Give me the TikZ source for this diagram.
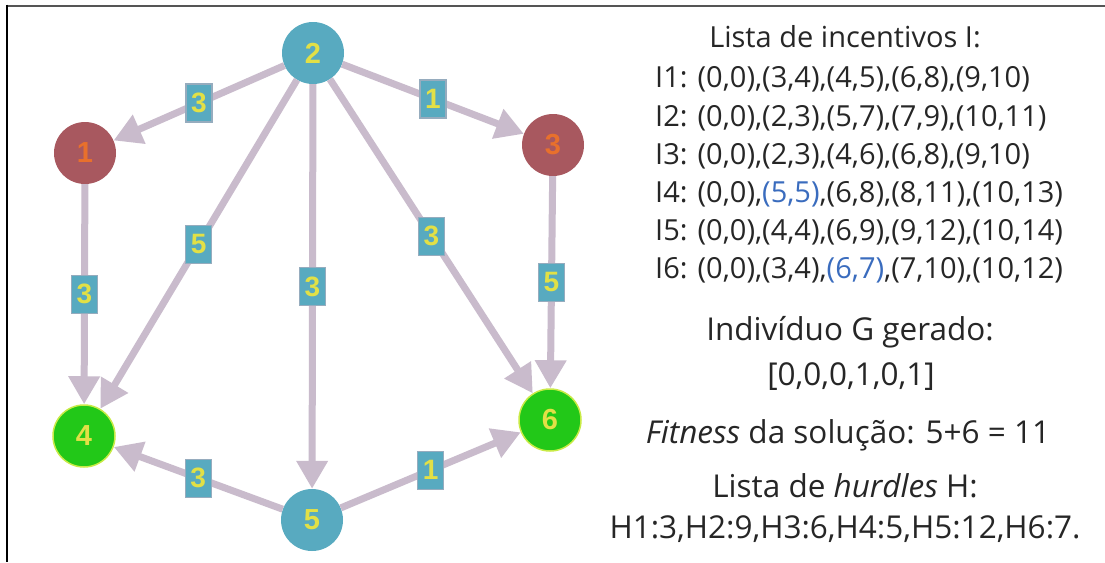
\documentclass[tikz,border=0pt]{standalone}
\usepackage{fontspec}
\setmainfont{Open Sans}
\newfontfamily\labelfont{Liberation Sans}
\usetikzlibrary{arrows.meta}

\definecolor{edgecol}{RGB}{201,187,204}
\definecolor{tealnode}{RGB}{88,170,192}
\definecolor{rednode}{RGB}{168,88,95}
\definecolor{greennode}{RGB}{34,200,24}
\definecolor{greenrim}{RGB}{200,235,70}
\definecolor{yellowtxt}{RGB}{226,224,70}
\definecolor{orangetxt}{RGB}{232,112,44}
\definecolor{labrim}{RGB}{150,172,190}
\definecolor{bluetxt}{RGB}{58,108,190}
\definecolor{framegray}{RGB}{85,85,85}

\tikzset{
  vtx/.style={circle, minimum size=62pt, inner sep=0pt,
    font=\labelfont\bfseries\fontsize{29}{29}\selectfont, text=yellowtxt},
  tealvtx/.style={vtx, fill=tealnode},
  redvtx/.style={vtx, fill=rednode, text=orangetxt},
  greenvtx/.style={vtx, fill=greennode, draw=greenrim, line width=1.5pt},
  edge/.style={draw=edgecol, line width=7pt,
    -{Triangle[length=28pt,width=30pt]}},
  wlab/.style={rectangle, fill=tealnode, draw=labrim, line width=1.2pt,
    minimum width=26pt, minimum height=38pt, inner sep=0pt,
    font=\labelfont\bfseries\fontsize{28}{28}\selectfont, text=yellowtxt},
  txt/.style={inner sep=0pt, font=\fontsize{29}{29}\selectfont, text=black!85},
  bigtxt/.style={inner sep=0pt, font=\fontsize{31.5}{31.5}\selectfont, text=black!85}
}

\begin{document}
\begin{tikzpicture}[x=1pt, y=-1pt]
\useasboundingbox (0,0) rectangle (1105,562);
\fill[white] (0,0) rectangle (1105,562);

% frame lines
\draw[framegray, line width=2pt] (6,5.5) -- (1105,5.5);
\draw[black, line width=2pt] (6.5,4.5) -- (6.5,562);

% vertices
\node[tealvtx]  (n2) at (313,53)  {2};
\node[redvtx]   (n1) at (85,153)  {1};
\node[redvtx]   (n3) at (553,145) {3};
\node[greenvtx] (n4) at (84,436)  {4};
\node[greenvtx] (n6) at (550,420) {6};
\node[tealvtx]  (n5) at (312,520) {5};

% weighted arcs
\draw[edge] (n2) -- node[wlab] {3} (n1);
\draw[edge] (n2) -- node[wlab] {1} (n3);
\draw[edge] (n2) -- node[wlab] {5} (n4);
\draw[edge] (n2) -- node[wlab] {3} (n5);
\draw[edge] (n2) -- node[wlab] {3} (n6);
\draw[edge] (n1) -- node[wlab] {3} (n4);
\draw[edge] (n3) -- node[wlab] {5} (n6);
\draw[edge] (n5) -- node[wlab] {3} (n4);
\draw[edge] (n5) -- node[wlab] {1} (n6);

% incentive list
\node[txt, anchor=base] (title) at (845,47) {Lista de incentivos I:};
\node[txt, anchor=base west] (i1) at (655,87)  {I1: (0,0),(3,4),(4,5),(6,8),(9,10)};
\node[txt, anchor=base west] (i2) at (655,126) {I2: (0,0),(2,3),(5,7),(7,9),(10,11)};
\node[txt, anchor=base west] (i3) at (655,164) {I3: (0,0),(2,3),(4,6),(6,8),(9,10)};
\node[txt, anchor=base west] (i4) at (655,202) {I4: (0,0),\textcolor{bluetxt}{(5,5)},(6,8),(8,11),(10,13)};
\node[txt, anchor=base west] (i5) at (655,240) {I5: (0,0),(4,4),(6,9),(9,12),(10,14)};
\node[txt, anchor=base west] (i6) at (655,278) {I6: (0,0),(3,4),\textcolor{bluetxt}{(6,7)},(7,10),(10,12)};

% generated individual, fitness and hurdles
\node[bigtxt, anchor=base] (ind)  at (850,340) {Indivíduo G gerado:};
\node[bigtxt, anchor=base] (vec)  at (851,385) {[0,0,0,1,0,1]};
\node[bigtxt, anchor=base] (fit)  at (848,443) {\textit{Fitness} da solução: 5+6 = 11};
\node[bigtxt, anchor=base] (hl)   at (845,497) {Lista de \textit{hurdles} H:};
\node[bigtxt, anchor=base] (hv)   at (845,538) {H1:3,H2:9,H3:6,H4:5,H5:12,H6:7.};
\end{tikzpicture}
\end{document}
